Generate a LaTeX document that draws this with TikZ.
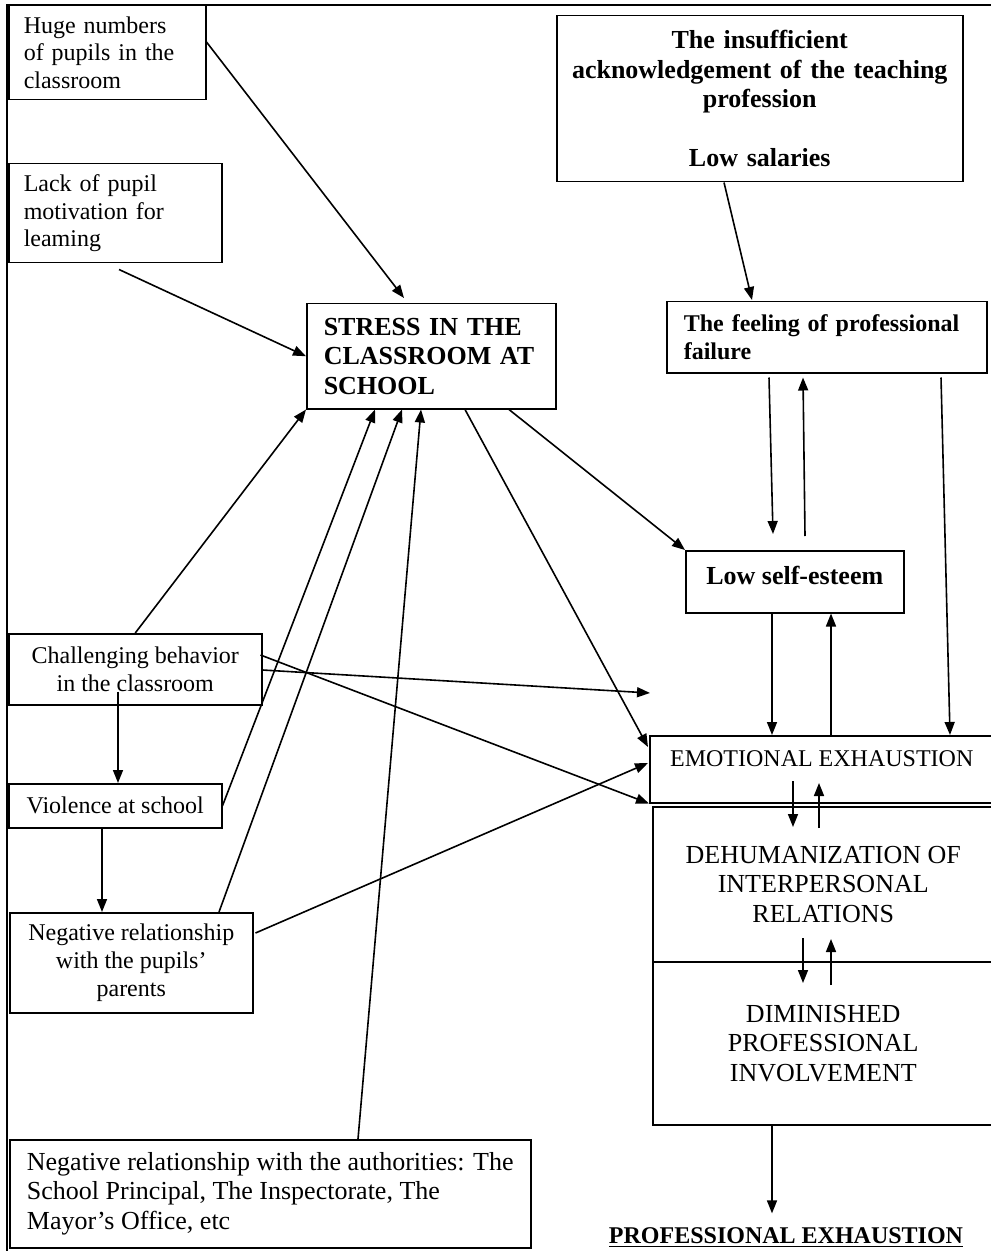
\documentclass[tikz,border=0pt]{standalone}
\usepackage{fontspec}
\setmainfont{Liberation Serif}
\usetikzlibrary{arrows.meta}

\begin{document}
\begin{tikzpicture}[x=0.5pt, y=-0.5pt]

        \tikzstyle{every node}=[draw, rectangle, line width=0.75pt, inner sep=0pt, anchor=north west, font=\fontsize{12}{13.8}\selectfont]
        \tikzstyle{big}=[font=\fontsize{13}{14.8}\selectfont]
        \tikzstyle{bold}=[font=\fontsize{12}{13.8}\selectfont\bfseries]
        \tikzstyle{bigbold}=[font=\fontsize{13}{14.8}\selectfont\bfseries]
        \tikzstyle{arr}=[line width=0.8pt, -{Triangle[length=6.5pt, width=5pt]}]

        \useasboundingbox (0,0) rectangle (990,1251);
        \draw[line width=1pt] (1000,5) -- (7,5) -- (7,1260);

        % causes on the left
        \node[minimum width=98.5pt, minimum height=47pt, text width=83.5pt, align=left] (huge) at (8,5) {Huge numbers\\ of pupils in the\\ classroom};
        \node[minimum width=106.5pt, minimum height=49.5pt, text width=91.5pt, align=left] (lack) at (8,163) {Lack of pupil\\ motivation for\\ leaming};
        \node[minimum width=126.5pt, minimum height=35.5pt, align=center] (challenge) at (8,633) {Challenging behavior\\ in the classroom};
        \node[minimum width=106.5pt, minimum height=22pt, align=center] (violence) at (8,783) {Violence at school};
        \node[minimum width=121.5pt, minimum height=50pt, align=center] (negpar) at (9,912) {Negative relationship\\ with the pupils’\\ parents};
        \node[big, minimum width=260.5pt, minimum height=54pt, align=left] (auth) at (9,1139) {Negative relationship with the authorities: The\\ School Principal, The Inspectorate, The\\ Mayor’s Office, etc};

        \node[bigbold, minimum width=124.5pt, minimum height=52.5pt, text width=107.5pt, align=left] (stress) at (306,303) {STRESS IN THE\\ CLASSROOM AT\\ SCHOOL};

        % right column
        \node[bigbold, minimum width=203pt, minimum height=83pt, text width=190pt, align=center] (insuff) at (556,15) {The insufficient\\ acknowledgement of the teaching\\ profession\\[14.8pt] Low salaries};
        \node[bold, minimum width=160pt, minimum height=35.5pt, text width=143pt, align=left] (feeling) at (666,301) {The feeling of professional\\ failure};
        \node[bigbold, minimum width=109pt, text height=17pt, text depth=14pt] (lowself) at (685,550) {Low self-esteem};

        % the three stages
        \node[minimum width=172pt, text height=15.5pt, text depth=18pt] (emotional) at (649,735) {EMOTIONAL EXHAUSTION};
        \node[big, minimum width=170.5pt, minimum height=77.5pt, align=center] (dehum) at (652,806) {DEHUMANIZATION OF\\ INTERPERSONAL\\ RELATIONS};
        \node[big, minimum width=170.5pt, minimum height=81.5pt, align=center] (dimin) at (652,961) {DIMINISHED\\ PROFESSIONAL\\ INVOLVEMENT};
        \node[bold, draw=none, anchor=base] (prof) at (786,1243) {\underline{PROFESSIONAL EXHAUSTION}};

        % into the stress box
        \draw[arr] ([shift={(0,37)}]huge.north east) -- ([shift={(98,-5)}]stress.north west);
        \draw[arr] ([shift={(111,6)}]lack.south west) -- (stress.west);
        \draw[arr] (challenge.north) -- (stress.south west);
        \draw[arr] (violence.east) -- ([shift={(69,0)}]stress.south west);
        \draw[arr] ([shift={(210,0)}]negpar.north west) -- ([shift={(96,0)}]stress.south west);
        \draw[arr] ([shift={(349,0)}]auth.north west) -- ([shift={(115,0)}]stress.south west);

        % out of the stress box
        \draw[arr] ([shift={(159,0)}]stress.south west) -- ([shift={(-1,12)}]emotional.north west);
        \draw[arr] ([shift={(203,0)}]stress.south west) -- (lowself.north west);

        % challenging behavior and what follows
        \coordinate (loose) at (650,693);
        \draw[arr] ([shift={(0,37)}]challenge.north east) -- (loose);
        \draw[arr] ([shift={(-2,22)}]challenge.north east) -- (emotional.south west);
        \draw[arr] ([shift={(110,-14)}]challenge.south west) -- ([shift={(110,0)}]violence.north west);
        \draw[arr] ([shift={(94,0)}]violence.south west) -- ([shift={(93,0)}]negpar.north west);
        \draw[arr] ([shift={(2,21)}]negpar.north east) -- ([shift={(-1,28)}]emotional.north west);

        % right column
        \draw[arr] ([shift={(168,0)}]insuff.south west) -- ([shift={(86,-1)}]feeling.north west);
        \draw[arr] ([shift={(103,4)}]feeling.south west) -- ([shift={(88,-16)}]lowself.north west);
        \draw[arr] ([shift={(120,-14)}]lowself.north west) -- ([shift={(137,4)}]feeling.south west);
        \draw[arr] ([shift={(275,4)}]feeling.south west) -- ([shift={(301,0)}]emotional.north west);
        \draw[arr] ([shift={(87,0)}]lowself.south west) -- ([shift={(123,0)}]emotional.north west);
        \draw[arr] ([shift={(182,0)}]emotional.north west) -- ([shift={(146,0)}]lowself.south west);

        % between the stages
        \draw[arr] ([shift={(144,46)}]emotional.north west) -- ([shift={(141,21)}]dehum.north west);
        \draw[arr] ([shift={(167,22)}]dehum.north west) -- ([shift={(170,48)}]emotional.north west);
        \draw[arr] ([shift={(151,132)}]dehum.north west) -- ([shift={(151,22)}]dimin.north west);
        \draw[arr] ([shift={(179,24)}]dimin.north west) -- ([shift={(179,133)}]dehum.north west);
        \draw[arr] ([shift={(120,0)}]dimin.south west) -- ([shift={(-14,-13)}]prof.north);

\end{tikzpicture}
\end{document}
